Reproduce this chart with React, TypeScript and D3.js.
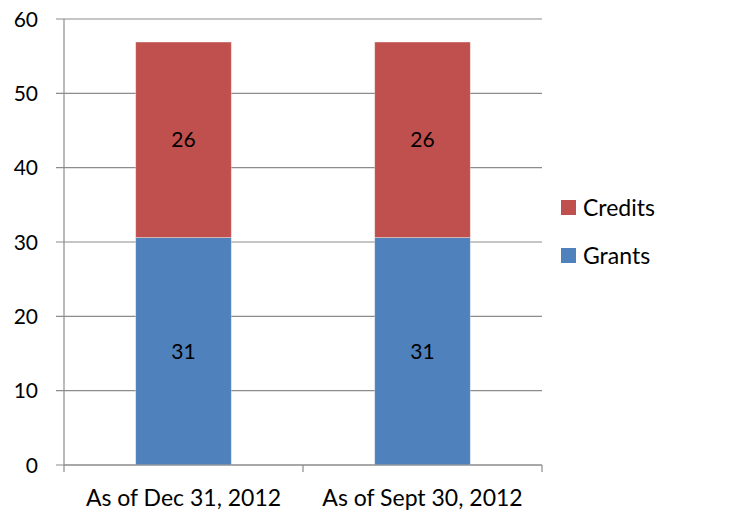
import React from 'react'
import * as d3 from 'd3'

const categories = ['As of Dec 31, 2012', 'As of Sept 30, 2012']
const seriesNames = ['Grants', 'Credits']
const grants = [30.6, 30.6]
const credits = [26.3, 26.3]
const yTicks = [0, 10, 20, 30, 40, 50, 60]

const colors: { [key: string]: string } = { Grants: '#4f81bd', Credits: '#c0504d' }
const FONT = 'Lato, "Open Sans", sans-serif'
const MARGIN = { top: 19, left: 64, right: 192, bottom: 50 }
const WIDTH = 734
const HEIGHT = 515

export default function App() {
  const innerW = WIDTH - MARGIN.left - MARGIN.right
  const innerH = HEIGHT - MARGIN.top - MARGIN.bottom

  const data = categories.map((c, i) => ({ cat: c, Grants: grants[i], Credits: credits[i] }))
  const series = d3.stack<any>().keys(seriesNames)(data)

  const x = d3.scaleBand().domain(categories).range([0, innerW]).paddingInner(0.6).paddingOuter(0.3)
  const y = d3.scaleLinear().domain([0, 60]).range([innerH, 0])

  const step = x.step()

  return (
    <svg width={WIDTH} height={HEIGHT} style={{ position: 'absolute', left: 0, top: 0 }}>
      <g transform={`translate(${MARGIN.left},${MARGIN.top})`} fontFamily={FONT}>
        {/* gridlines */}
        {yTicks.map((t) => (
          <line key={t} x1={-8} x2={innerW} y1={y(t)} y2={y(t)} stroke="#8c8c8c" strokeWidth={1.2} />
        ))}
        {yTicks.map((t) => (
          <text key={'l' + t} x={-26} y={y(t)} dy="0.36em" textAnchor="end" fontSize={21} fill="#000">
            {t}
          </text>
        ))}
        {/* bars */}
        {series.map((s) => (
          <g key={s.key}>
            {s.map((d, i) => (
              <g key={i}>
                <rect
                  x={x(d.data.cat)}
                  y={y(d[1])}
                  width={x.bandwidth()}
                  height={y(d[0]) - y(d[1])}
                  fill={colors[s.key]}
                  stroke="#ffffff"
                  strokeOpacity={0.4}
                  strokeWidth={0.8}
                />
                <text
                  x={(x(d.data.cat) || 0) + x.bandwidth() / 2}
                  y={(y(d[0]) + y(d[1])) / 2}
                  dy="0.36em"
                  textAnchor="middle"
                  fontSize={21}
                  fill="#000"
                >
                  {Math.round(d[1] - d[0])}
                </text>
              </g>
            ))}
          </g>
        ))}
        {/* axes */}
        <line x1={0} x2={0} y1={0} y2={innerH} stroke="#8c8c8c" strokeWidth={1.2} />
        <line x1={0} x2={innerW} y1={innerH} y2={innerH} stroke="#8c8c8c" strokeWidth={1.2} />
        {d3.range(categories.length + 1).map((i) => (
          <line key={'t' + i} x1={i * step} x2={i * step} y1={innerH} y2={innerH + 7} stroke="#8c8c8c" strokeWidth={1.2} />
        ))}
        {categories.map((c) => (
          <text key={c} x={(x(c) || 0) + x.bandwidth() / 2} y={innerH + 41} textAnchor="middle" fontSize={23} fill="#000">
            {c}
          </text>
        ))}
        {/* legend */}
        <g transform={`translate(${innerW + 19},0)`}>
          {['Credits', 'Grants'].map((k, i) => (
            <g key={k} transform={`translate(0,${181 + i * 48})`}>
              <rect x={0} y={0} width={15} height={15} fill={colors[k]} />
              <text x={22} y={7.5} dy="0.36em" fontSize={23} fill="#000">
                {k}
              </text>
            </g>
          ))}
        </g>
      </g>
    </svg>
  )
}
